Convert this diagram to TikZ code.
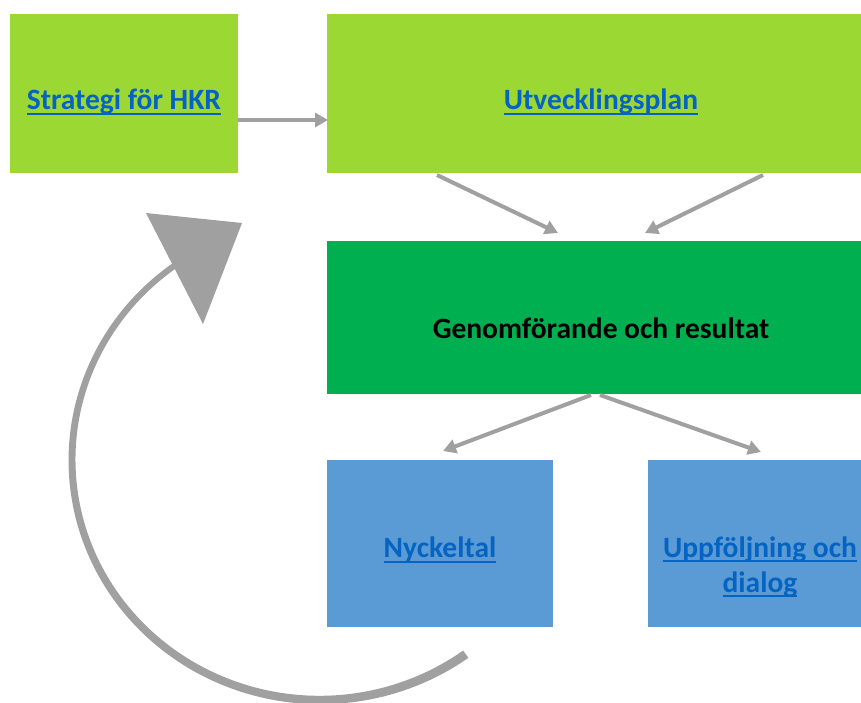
\documentclass[tikz,border=0pt]{standalone}
\usepackage{fontspec}
\setmainfont{Carlito}
\usetikzlibrary{arrows.meta}
\definecolor{lime}{RGB}{155,216,52}
\definecolor{dgreen}{RGB}{0,176,80}
\definecolor{lblue}{RGB}{91,155,213}
\definecolor{arrgray}{RGB}{160,160,160}
\definecolor{linkblue}{RGB}{5,99,193}
\newcommand{\ul}[1]{\setbox0=\hbox{#1}\leavevmode\rlap{\copy0}\rule[-5pt]{\wd0}{2pt}}
\tikzset{
  lbl/.style={font=\bfseries\fontsize{29.5}{35}\selectfont,text=linkblue,align=center,inner sep=0pt},
  conn/.style={draw=arrgray,line width=4pt,-{Triangle[length=13pt,width=14pt]}}
}
\begin{document}
\begin{tikzpicture}[x=1pt,y=-1pt]
\useasboundingbox (0,0) rectangle (861,702);
% boxes
\fill[lime] (10,14) rectangle (238,173);
\fill[lime] (327,14) rectangle (861,173);
\fill[dgreen] (327,241) rectangle (861,394);
\fill[lblue] (327,460) rectangle (553,627);
\fill[lblue] (648,460) rectangle (861,627);
% labels
\node[lbl] (strat) at (124,102) {\ul{Strategi för HKR}};
\node[lbl] (utv) at (601,102) {\ul{Utvecklingsplan}};
\node[lbl,text=black] (gen) at (601,328) {Genomförande och resultat};
\node[lbl] (nyck) at (440,550) {\ul{Nyckeltal}};
\node[lbl] (uppf) at (760,567) {\ul{Uppföljning och}\\\ul{dialog}};
% anchor coordinates
\coordinate (s1) at (238,120);
\coordinate (s2) at (328,120);
\coordinate (u1) at (437,175);
\coordinate (u1e) at (558,233);
\coordinate (u2) at (763,175);
\coordinate (u2e) at (645,233);
\coordinate (g1) at (591,395);
\coordinate (g1e) at (443,451);
\coordinate (g2) at (600,395);
\coordinate (g2e) at (761,452);
\draw[conn] (s1) -- (s2);
\draw[conn] (u1) -- (u1e);
\draw[conn] (u2) -- (u2e);
\draw[conn] (g1) -- (g1e);
\draw[conn] (g2) -- (g2e);
% big curved return arrow (tapered)
\fill[arrgray]
  plot[domain=54:236,samples=90,smooth] ({320+(248+(4.5-1.5*(\x-54)/182))*cos(\x)},{460+(240+(4.5-1.5*(\x-54)/182))*sin(\x)})
  -- plot[domain=236:54,samples=90,smooth] ({320+(248-(4.5-1.5*(\x-54)/182))*cos(\x)},{460+(240-(4.5-1.5*(\x-54)/182))*sin(\x)})
  -- cycle;
\fill[arrgray] (146,213) -- (242,223) -- (203,324) -- cycle;
\end{tikzpicture}
\end{document}
